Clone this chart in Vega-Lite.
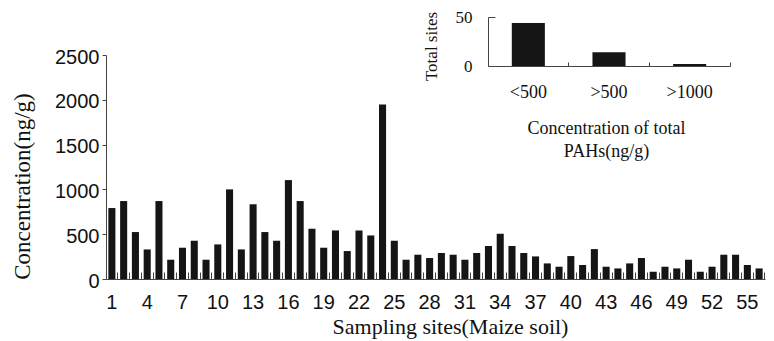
{
  "$schema": "https://vega.github.io/schema/vega-lite/v6.json",
  "width": 659,
  "height": 224,
  "autosize": {"type": "none"},
  "padding": {"left": 106, "top": 55, "right": 9, "bottom": 62},
  "background": "white",
  "config": {
    "view": {"stroke": null},
    "axis": {"grid": false, "domainColor": "#444", "tickColor": "#444", "labelColor": "#111", "titleColor": "#111", "titleFontWeight": "normal"}
  },
  "datasets": {
    "sites": [
      {"site": 1, "concentration": 792}, {"site": 2, "concentration": 870}, {"site": 3, "concentration": 524},
      {"site": 4, "concentration": 330}, {"site": 5, "concentration": 870}, {"site": 6, "concentration": 215},
      {"site": 7, "concentration": 349}, {"site": 8, "concentration": 427}, {"site": 9, "concentration": 215},
      {"site": 10, "concentration": 386}, {"site": 11, "concentration": 1000}, {"site": 12, "concentration": 330},
      {"site": 13, "concentration": 834}, {"site": 14, "concentration": 524}, {"site": 15, "concentration": 427},
      {"site": 16, "concentration": 1104}, {"site": 17, "concentration": 870}, {"site": 18, "concentration": 561},
      {"site": 19, "concentration": 349}, {"site": 20, "concentration": 542}, {"site": 21, "concentration": 312},
      {"site": 22, "concentration": 542}, {"site": 23, "concentration": 486}, {"site": 24, "concentration": 1947},
      {"site": 25, "concentration": 427}, {"site": 26, "concentration": 215}, {"site": 27, "concentration": 271},
      {"site": 28, "concentration": 234}, {"site": 29, "concentration": 290}, {"site": 30, "concentration": 271},
      {"site": 31, "concentration": 215}, {"site": 32, "concentration": 290}, {"site": 33, "concentration": 368},
      {"site": 34, "concentration": 505}, {"site": 35, "concentration": 368}, {"site": 36, "concentration": 290},
      {"site": 37, "concentration": 252}, {"site": 38, "concentration": 174}, {"site": 39, "concentration": 137},
      {"site": 40, "concentration": 256}, {"site": 41, "concentration": 156}, {"site": 42, "concentration": 334},
      {"site": 43, "concentration": 137}, {"site": 44, "concentration": 118}, {"site": 45, "concentration": 174},
      {"site": 46, "concentration": 234}, {"site": 47, "concentration": 81}, {"site": 48, "concentration": 137},
      {"site": 49, "concentration": 118}, {"site": 50, "concentration": 215}, {"site": 51, "concentration": 81},
      {"site": 52, "concentration": 137}, {"site": 53, "concentration": 271}, {"site": 54, "concentration": 271},
      {"site": 55, "concentration": 156}, {"site": 56, "concentration": 118}
    ],
    "summary": [
      {"range": "<500", "sites": 44},
      {"range": ">500", "sites": 14},
      {"range": ">1000", "sites": 2}
    ]
  },
  "layer": [
    {
      "data": {"name": "sites"},
      "mark": {"type": "bar", "color": "#151515"},
      "encoding": {
        "x": {
          "field": "site", "type": "ordinal",
          "scale": {"paddingInner": 0.4, "paddingOuter": 0.2},
          "axis": {
            "orient": "bottom",
            "title": "Sampling sites(Maize soil)",
            "titleFont": "Liberation Serif", "titleFontSize": 22,
            "titleX": 344, "titleY": 47, "titleBaseline": "middle", "titleAlign": "center",
            "labelFont": "Liberation Sans", "labelFontSize": 20, "labelAngle": 0,
            "labelExpr": "(datum.value - 1) % 3 == 0 ? datum.label : ''",
            "labelOverlap": false,
            "tickSize": -7, "bandPosition": 1.333, "labelPadding": 20, "labelBaseline": "top"
          }
        },
        "y": {
          "field": "concentration", "type": "quantitative",
          "scale": {"domain": [0, 2500], "nice": false},
          "axis": {
            "orient": "left",
            "title": "Concentration(ng/g)",
            "titleFont": "Liberation Serif", "titleFontSize": 23,
            "titleX": -84, "titleY": 131, "titleBaseline": "middle", "titleAlign": "center", "titleAngle": 270,
            "values": [0, 500, 1000, 1500, 2000, 2500], "format": "d",
            "labelFont": "Liberation Sans", "labelFontSize": 20, "labelOffset": 2,
            "tickSize": 4, "labelPadding": 3
          }
        }
      }
    },
    {
      "data": {"name": "summary"},
      "mark": {"type": "bar", "color": "#151515"},
      "encoding": {
        "x": {
          "field": "range", "type": "nominal", "sort": ["<500", ">500", ">1000"],
          "scale": {"range": [382, 624], "paddingInner": 0.59, "paddingOuter": 0.295},
          "axis": {
            "orient": "bottom", "offset": -213,
            "title": ["Concentration of total", "PAHs(ng/g)"],
            "titleFont": "Liberation Serif", "titleFontSize": 18, "titleLineHeight": 23,
            "titleX": 500, "titlePadding": 18,
            "labelFont": "Liberation Serif", "labelFontSize": 18, "labelAngle": 0,
            "tickSize": -4, "bandPosition": 1.72, "labelPadding": 21
          }
        },
        "y": {
          "field": "sites", "type": "quantitative",
          "scale": {"domain": [0, 50], "range": [11, -38], "nice": false},
          "axis": {
            "orient": "left", "offset": -382,
            "title": "Total sites",
            "titleFont": "Liberation Serif", "titleFontSize": 17,
            "titleX": -57, "titleY": -9, "titleBaseline": "middle", "titleAlign": "center", "titleAngle": 270,
            "values": [0, 50],
            "labelFont": "Liberation Serif", "labelFontSize": 17,
            "tickSize": -7, "labelPadding": 23
          }
        }
      }
    }
  ],
  "resolve": {
    "scale": {"x": "independent", "y": "independent"},
    "axis": {"x": "independent", "y": "independent"}
  }
}
